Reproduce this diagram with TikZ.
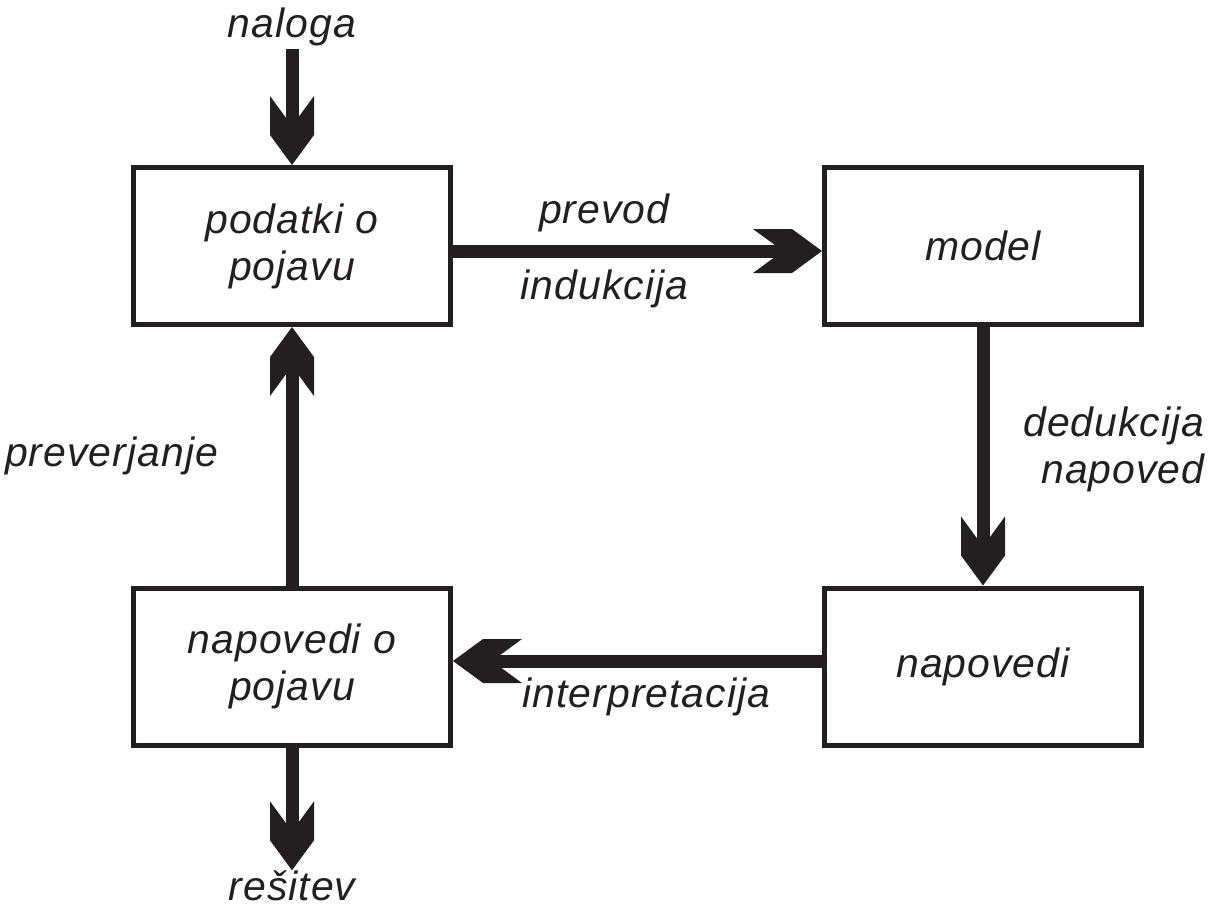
\documentclass[tikz,border=0pt]{standalone}
\usepackage{fontspec}
\setmainfont{Liberation Sans}[LetterSpace=2.5]
\usetikzlibrary{positioning,arrows.meta}
\definecolor{ink}{HTML}{231F20}

\pgfdeclarearrow{
  name = Chevron,
  parameters = {\the\pgfarrowlength,\the\pgfarrowwidth},
  setup code = {
    \pgfarrowssettipend{\pgfarrowlength}
    \pgfarrowssetlineend{.5\pgfarrowlength}
    \pgfarrowssetvisualbackend{0pt}
    \pgfarrowssetbackend{0pt}
    \pgfarrowshullpoint{\pgfarrowlength}{0pt}
    \pgfarrowsupperhullpoint{0pt}{.5\pgfarrowwidth}
    \pgfarrowssavethe\pgfarrowlength
    \pgfarrowssavethe\pgfarrowwidth
  },
  drawing code = {
    \pgfpathmoveto{\pgfqpoint{\pgfarrowlength}{0pt}}
    \pgfpathlineto{\pgfqpoint{.565\pgfarrowlength}{.5\pgfarrowwidth}}
    \pgfpathlineto{\pgfqpoint{0pt}{.5\pgfarrowwidth}}
    \pgfpathlineto{\pgfqpoint{.435\pgfarrowlength}{0pt}}
    \pgfpathlineto{\pgfqpoint{0pt}{-.5\pgfarrowwidth}}
    \pgfpathlineto{\pgfqpoint{.565\pgfarrowlength}{-.5\pgfarrowwidth}}
    \pgfpathclose
    \pgfusepathqfill
  },
  defaults = {length=1.38cm, width=.88cm}
}

\begin{document}
\begin{tikzpicture}[
node distance=5.17cm and 7.38cm,
every node/.style={
font=\fontsize{23.3}{26.7}\selectfont\itshape,
text=ink
},
stage/.style={
draw=ink,
line width=0.1cm,
minimum width=6.34cm,
minimum height=3.14cm,
align=center
},
lbl/.style={inner sep=0pt, align=center},
flow/.style={->, line width=0.26cm, color=ink},
>=Chevron
]

\useasboundingbox (-5.84,-13.28) rectangle (18.42,4.92);

\node[stage] (podatki) {podatki o\\pojavu};

\node[stage] (model) [right=of podatki] {model};

\node[stage] (napovedi) [below=of model] {napovedi};

\node[stage] (napovedipojav) [below=of podatki] {napovedi o\\pojavu};

\node[lbl] (naloga) [above=2.56cm of podatki, anchor=base] {naloga};

\node[lbl] (resitev) [below=3.06cm of napovedipojav, anchor=base] {rešitev};

\draw[flow, shorten <=0.07cm] (naloga)--(podatki);
\draw[flow] ([yshift=-0.1cm]podatki.east)--
  node[lbl, pos=0.41, anchor=base, yshift=0.56cm] (prevod) {prevod}
  node[lbl, pos=0.41, anchor=base, yshift=-0.96cm] (indukcija) {indukcija}
  ([yshift=-0.1cm]model.west);
\draw[flow] (model)--
  node[lbl, midway, anchor=east, xshift=4.56cm, yshift=0.13cm, align=right] (dedukcija) {dedukcija\\napoved}
  (napovedi);
\draw[flow] ([yshift=0.11cm]napovedi.west)--
  node[lbl, pos=0.476, anchor=base, yshift=-0.92cm] (interpretacija) {interpretacija}
  ([yshift=0.11cm]napovedipojav.east);
\draw[flow] (napovedipojav)--
  node[lbl, midway, left=1.35cm] (preverjanje) {preverjanje}
  (podatki);
\draw[flow] (napovedipojav)--(resitev);

\end{tikzpicture}
\end{document}
